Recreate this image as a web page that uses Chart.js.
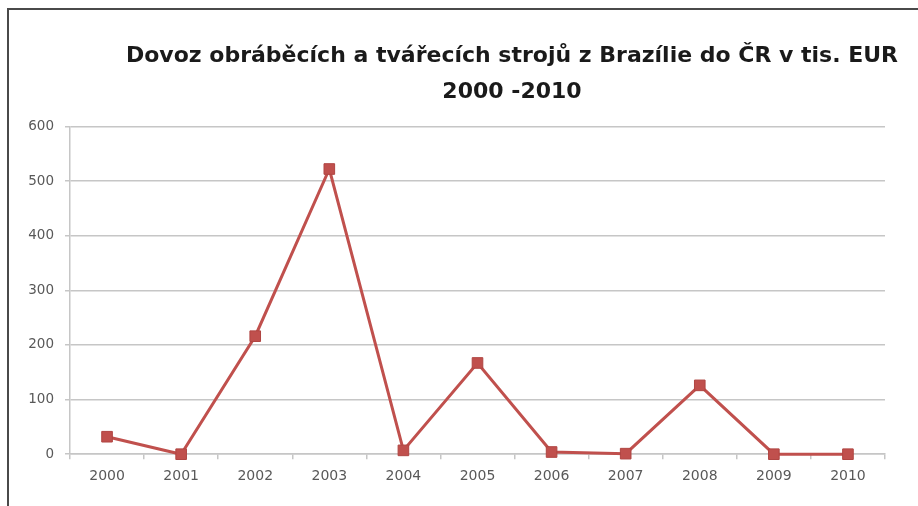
<!DOCTYPE html>
<html>
<head>
<meta charset="utf-8">
<title>Dovoz z Brazílie</title>
<script src="https://cdn.jsdelivr.net/npm/chart.js@4.4.0/dist/chart.umd.min.js"></script>
<style>
  html, body { margin: 0; padding: 0; background: #fff; overflow: hidden; }
  /* rámeček kolem grafu, vpravo a dole pokračuje mimo okno */
  .ramecek {
    position: absolute; left: 7px; top: 8px; width: 1100px; height: 600px;
    border-left: 2px solid #4a4a4a; border-top: 2px solid #4a4a4a;
  }
  .graf { position: absolute; left: 0; top: 0; width: 1006px; height: 498px; }
</style>
</head>
<body>
<div class="ramecek">
  <div class="graf"><canvas id="dovozChart"></canvas></div>
</div>
<script>
// roky a hodnoty dovozu (tis. EUR)
const roky = ['2000', '2001', '2002', '2003', '2004', '2005', '2006', '2007', '2008', '2009', '2010'];
const dovoz = [32, 0, 216, 522, 7, 167, 4, 1, 126, 0, 0];
const znackyOsyY = [0, 100, 200, 300, 400, 500, 600];
const nadpis = ['Dovoz obráběcích a tvářecích strojů z Brazílie do ČR v tis. EUR', '2000 -2010'];

const cervena = '#C0504D';
const mrizka = '#c6c6c6';
const popisky = '#595959';
const pismo = 'DejaVu Sans';

const ctx = document.getElementById('dovozChart').getContext('2d');
new Chart(ctx, {
    type: 'line',
    data: {
        labels: roky,
        datasets: [{
            label: 'Dovoz',
            data: dovoz,
            borderColor: cervena,
            borderWidth: 3,
            backgroundColor: cervena,
            pointStyle: 'rect',
            pointRadius: 7.5,
            pointBackgroundColor: cervena,
            pointBorderColor: '#b04542',
            pointBorderWidth: 1,
            tension: 0,
            clip: false
        }]
    },
    options: {
        responsive: true,
        maintainAspectRatio: false,
        animation: false,
        layout: {
            padding: { left: 0, right: 0, top: 0, bottom: 14 }
        },
        plugins: {
            legend: { display: false },
            tooltip: { enabled: false },
            title: {
                display: true,
                text: nadpis,
                color: '#1a1a1a',
                font: { family: pismo, size: 22, weight: 'bold', lineHeight: 1.6 },
                padding: { top: 29, bottom: 17 }
            }
        },
        scales: {
            x: {
                offset: true,
                grid: {
                    offset: true,
                    drawOnChartArea: false,
                    color: mrizka,
                    lineWidth: 1.5,
                    tickLength: 5
                },
                border: { color: mrizka, width: 1.5 },
                ticks: {
                    color: popisky,
                    padding: 9,
                    maxRotation: 0,
                    font: { family: pismo, size: 14 }
                }
            },
            y: {
                min: znackyOsyY[0],
                max: znackyOsyY[znackyOsyY.length - 1],
                afterBuildTicks: (osa) => { osa.ticks = znackyOsyY.map(v => ({ value: v })); },
                afterFit: (osa) => { osa.width = 61; },
                grid: {
                    color: mrizka,
                    lineWidth: 1.5,
                    tickLength: 5
                },
                border: { color: mrizka, width: 1.5 },
                ticks: {
                    color: popisky,
                    padding: 11,
                    font: { family: pismo, size: 13.5 }
                }
            },
            // prázdný pruh vpravo, plocha grafu končí dřív než rámeček
            okraj: {
                type: 'linear',
                position: 'right',
                grid: { display: false },
                border: { display: false },
                ticks: { display: false },
                afterFit: (osa) => { osa.width = 130; }
            }
        }
    }
});
</script>
</body>
</html>
